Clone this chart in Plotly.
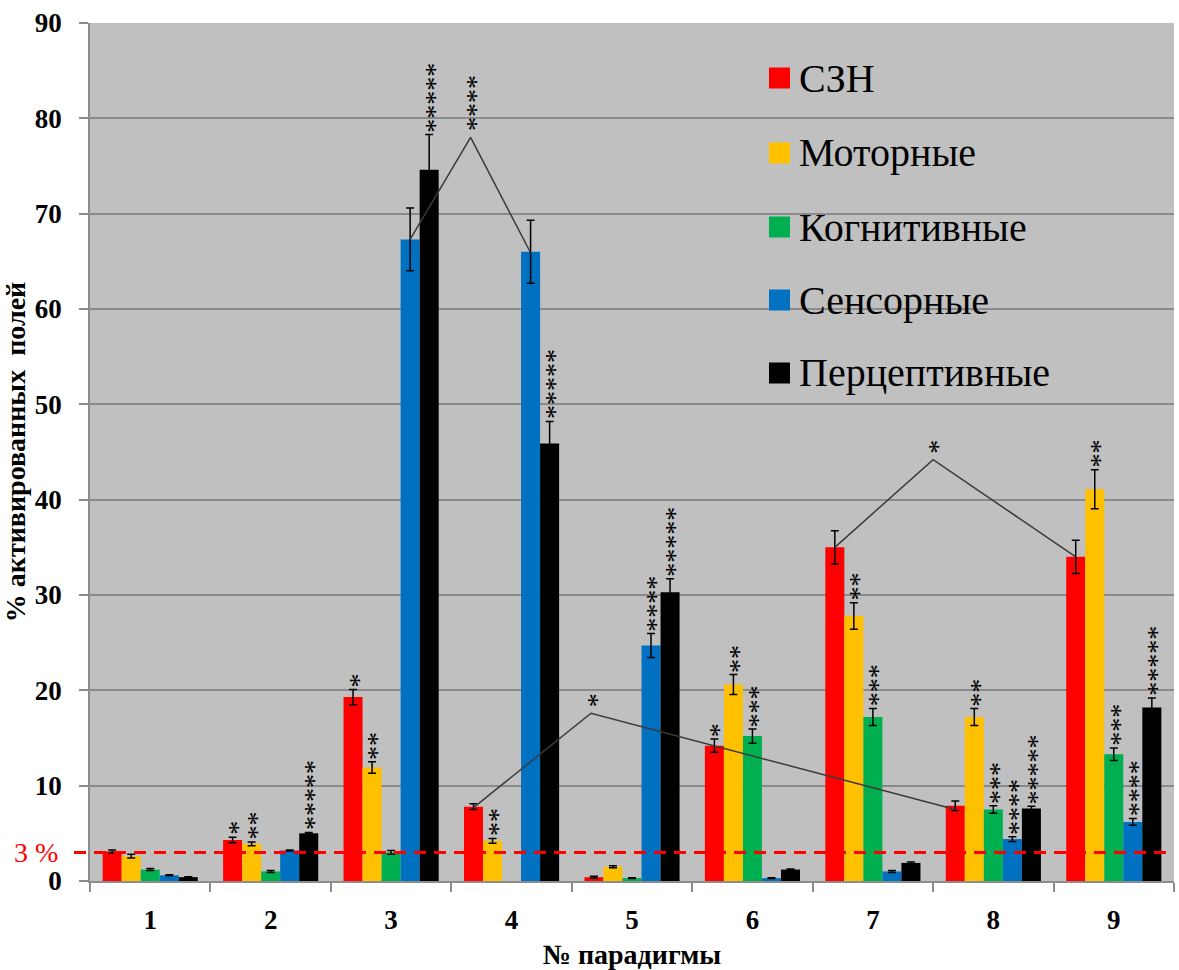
import plotly.graph_objects as go

# ---------------- data ----------------
paradigms = [1, 2, 3, 4, 5, 6, 7, 8, 9]
series_names = ["СЗН", "Моторные", "Когнитивные", "Сенсорные", "Перцептивные"]
series_colors = ["#FF0000", "#FFC000", "#00B050", "#0070C0", "#000000"]

szn = [3.1, 4.3, 19.3, 7.8, 0.4, 14.2, 35.0, 7.9, 34.0]
motor = [2.6, 3.9, 11.9, 4.2, 1.5, 20.6, 27.8, 17.2, 41.1]
cogn = [1.2, 1.0, 3.0, None, 0.3, 15.2, 17.2, 7.5, 13.3]
sens = [0.6, 3.2, 67.3, 66.0, 24.7, 0.3, 1.0, 4.4, 6.2]
perc = [0.4, 5.0, 74.6, 45.9, 30.3, 1.2, 1.9, 7.6, 18.2]

szn_err = [0.15, 0.3, 0.8, 0.3, 0.1, 0.7, 1.75, 0.5, 1.75]
motor_err = [0.2, 0.2, 0.6, 0.25, 0.1, 1.05, 1.4, 0.9, 2.05]
cogn_err = [0.1, 0.1, 0.2, None, 0.05, 0.75, 0.9, 0.4, 0.65]
sens_err = [0.05, 0.05, 3.3, 3.3, 1.25, 0.05, 0.1, 0.25, 0.35]
perc_err = [0.05, 0.1, 3.7, 2.3, 1.4, 0.05, 0.1, 0.25, 1.0]

# number of significance stars above each bar (0 = none)
szn_stars = [0, 1, 1, 0, 0, 1, 0, 0, 0]
motor_stars = [0, 2, 2, 2, 0, 2, 2, 2, 2]
cogn_stars = [0, 0, 0, 0, 0, 3, 3, 3, 3]
sens_stars = [0, 0, 0, 0, 4, 0, 0, 4, 4]
perc_stars = [0, 5, 5, 5, 5, 0, 0, 5, 5]

# comparison brackets
bracket_start_par = [3, 4, 7]
bracket_start_ser = [3, 0, 0]
bracket_start_y = [67.3, 7.7, 35.0]
bracket_peak_x = [3.66, 4.66, 7.5]
bracket_peak_y = [78.0, 17.6, 44.2]
bracket_end_par = [4, 8, 9]
bracket_end_ser = [3, 0, 0]
bracket_end_y = [65.9, 7.5, 34.0]
bracket_stars = [4, 1, 1]

threshold = 3
threshold_label = "3 %"
y_title = "% активированных  полей"
x_title = "№ парадигмы"

values = [szn, motor, cogn, sens, perc]
errors = [szn_err, motor_err, cogn_err, sens_err, perc_err]
stars = [szn_stars, motor_stars, cogn_stars, sens_stars, perc_stars]

# ---------------- layout geometry ----------------
W, H = 1179, 970
L, R, T, B = 90, 1174, 23, 881
BARGAP = 0.21
BW = (1 - BARGAP) / 5


def px_x(px):
    return (px - L) / (R - L)


def px_y(py):
    return (B - py) / (B - T)


SERIF = "Liberation Serif"
STAR_FONT = dict(family=SERIF, size=28, color="black")

fig = go.Figure()

for i, (name, col) in enumerate(zip(series_names, series_colors)):
    fig.add_trace(go.Bar(
        x=paradigms, y=values[i], name=name,
        marker=dict(color=col, line=dict(width=0)),
        error_y=dict(type="data", array=errors[i], visible=True,
                     color="black", thickness=1.5, width=4),
        showlegend=False,
    ))

# brackets
for k in range(len(bracket_stars)):
    x0 = bracket_start_par[k] + (bracket_start_ser[k] - 2) * BW
    x1 = bracket_end_par[k] + (bracket_end_ser[k] - 2) * BW
    fig.add_trace(go.Scatter(
        x=[x0, bracket_peak_x[k], x1],
        y=[bracket_start_y[k], bracket_peak_y[k], bracket_end_y[k]],
        mode="lines", line=dict(color="#3a3a3a", width=1.5),
        showlegend=False, hoverinfo="skip",
    ))
    fig.add_annotation(
        x=bracket_peak_x[k], y=bracket_peak_y[k], text="*" * bracket_stars[k],
        textangle=-90, showarrow=False, xanchor="center", yanchor="bottom",
        yshift=4, xshift=5, font=STAR_FONT,
    )

# stars above bars
for i in range(5):
    for j, p in enumerate(paradigms):
        n = stars[i][j]
        if n:
            e = errors[i][j] or 0
            fig.add_annotation(
                x=p + (i - 2) * BW, y=values[i][j] + e, text="*" * n,
                textangle=-90, showarrow=False, xanchor="center", yanchor="bottom",
                yshift=0, xshift=5, font=STAR_FONT,
            )

# threshold line and label
fig.add_shape(type="line", xref="paper", yref="y", x0=px_x(74), x1=1, y0=threshold, y1=threshold,
              line=dict(color="#FF0000", width=3, dash="12px,8px"), layer="above")
fig.add_annotation(xref="paper", yref="y", x=px_x(60), y=threshold, text=threshold_label,
                   showarrow=False, xanchor="right", yanchor="middle",
                   font=dict(family=SERIF, size=28, color="#FF0000"))

# manual legend
leg_rows = [78, 153, 227, 300, 373]
for name, col, py in zip(series_names, series_colors, leg_rows):
    fig.add_shape(type="rect", xref="paper", yref="paper",
                  x0=px_x(769), x1=px_x(790), y0=px_y(py + 10.5), y1=px_y(py - 10.5),
                  fillcolor=col, line=dict(width=0))
    fig.add_annotation(xref="paper", yref="paper", x=px_x(797), y=px_y(py),
                       text=name, showarrow=False, xanchor="left", yanchor="middle",
                       font=dict(family=SERIF, size=40, color="black"))

fig.update_layout(
    width=W, height=H,
    margin=dict(l=L, r=W - R, t=T, b=H - B),
    paper_bgcolor="white", plot_bgcolor="#C0C0C0",
    barmode="group", bargap=BARGAP, bargroupgap=0,
    font=dict(family=SERIF, color="black"),
)
fig.update_xaxes(
    range=[0.5, 9.5], tickmode="array", tickvals=paradigms,
    ticktext=[str(p) for p in paradigms], ticks="",
    tickfont=dict(family=SERIF, size=27, weight="bold"),
    ticklabelstandoff=14,
    showline=True, linecolor="#8c8c8c", linewidth=1.5, showgrid=False, zeroline=False,
    minor=dict(tickmode="array", tickvals=[p - 0.5 for p in paradigms] + [9.5],
               ticks="outside", ticklen=9, tickcolor="#8c8c8c", tickwidth=1.5, showgrid=False),
    title=dict(text=x_title, font=dict(family=SERIF, size=28, weight="bold"), standoff=21),
    automargin=False,
)
fig.update_yaxes(
    range=[0, 90], dtick=10, tick0=0,
    ticks="outside", ticklen=9, tickcolor="#8c8c8c", tickwidth=1.5,
    tickfont=dict(family=SERIF, size=27, weight="bold"),
    ticklabelstandoff=12,
    showline=True, linecolor="#8c8c8c", linewidth=1.5,
    showgrid=True, gridcolor="#8a8a8a", gridwidth=1.5, zeroline=False,
    title=dict(text=y_title, font=dict(family=SERIF, size=28, weight="bold"), standoff=4),
    automargin=False,
)

fig.write_html("out.html", config={"displayModeBar": False},
               post_script="document.body.style.margin='0';")
